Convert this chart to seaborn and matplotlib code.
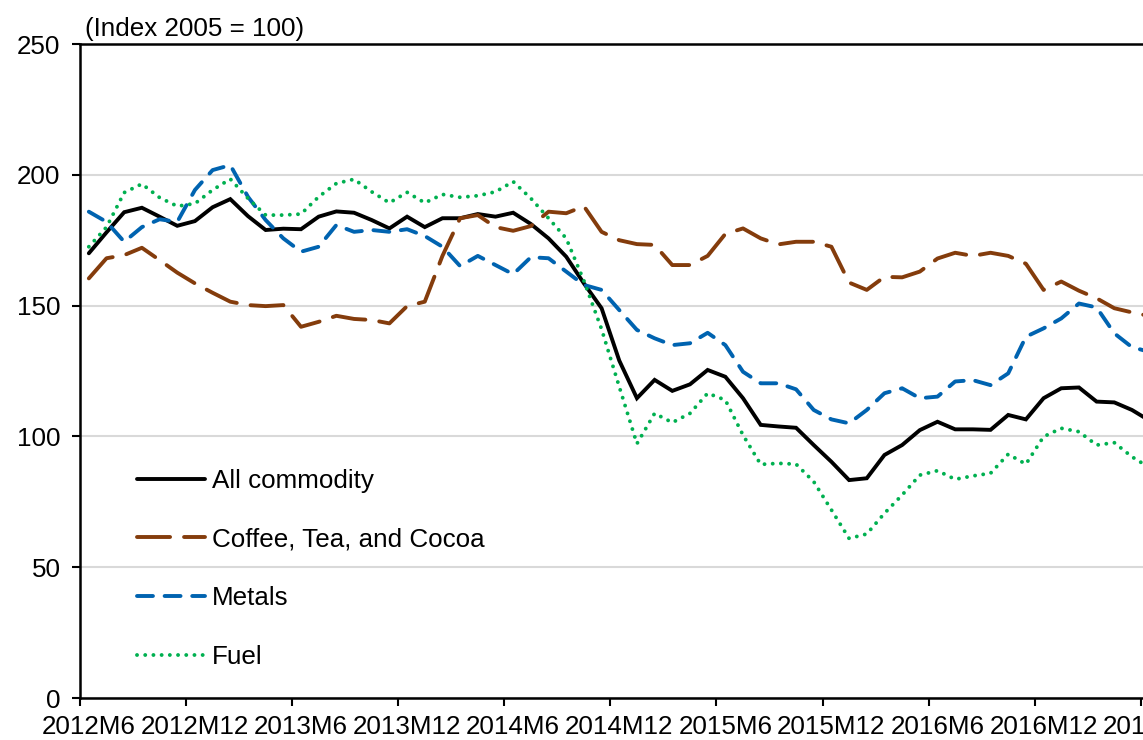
# commodity price indices, monthly, redrawn with seaborn
import numpy as np
import pandas as pd
import seaborn as sns
import matplotlib.pyplot as plt

# monthly values 2012M6 .. 2017M6 (Index 2005 = 100)
all_commodity = [170, 178, 185.7, 187.4, 184, 180.5, 182.3, 187.6, 190.7, 184.2,
                 178.9, 179.4, 179.2, 184, 186, 185.5, 182.7, 179.5, 184, 180,
                 183.4, 183.4, 185, 184, 185.5, 181.2, 175.7, 168.7, 158.5, 149,
                 129, 114.6, 121.6, 117.4, 119.9, 125.4, 122.8, 114.6, 104.4, 103.8,
                 103.3, 96.7, 90.3, 83.3, 84, 92.9, 96.7, 102.4, 105.6, 102.7,
                 102.7, 102.5, 108.2, 106.5, 114.6, 118.4, 118.7, 113.3, 113, 110.1,
                 106]
coffee_tea_cocoa = [160.4, 168.1, 169.3, 172.1, 167.4, 162.6, 158.5, 154.9, 151.5, 150.2,
                    149.8, 150.2, 141.9, 143.8, 146.1, 144.9, 144.5, 143.2, 149.8, 151.5,
                    169, 183.4, 184.6, 180, 178.6, 180.4, 185.9, 185.3, 188, 178.2,
                    175, 173.5, 173.2, 165.5, 165.5, 169, 177.4, 179.5, 175.7, 173.4,
                    174.4, 174.4, 172.5, 158.8, 156, 161, 160.8, 163, 168, 170.2,
                    169, 170.2, 169, 166, 156, 159.2, 155.7, 152.8, 149, 147.4,
                    146]
metals = [185.9, 182, 174.4, 180, 183, 182, 194.2, 201.8, 203.7, 191.6,
          182.7, 175.7, 170.6, 172.5, 180.8, 178.2, 178.9, 178.2, 179.2, 176.6,
          172.5, 165.1, 169, 165.5, 162, 168.5, 168.1, 163, 157.9, 156,
          148.3, 140.7, 137.5, 134.9, 135.6, 139.6, 134.9, 124.7, 120.3, 120.3,
          118, 110.1, 106.5, 105, 110.1, 116.5, 118.4, 114.6, 115.2, 121,
          121.5, 119.6, 124.1, 138.1, 141.3, 145.1, 150.8, 149.3, 139.4, 134.1,
          132.3]
fuel = [172.5, 180, 193.2, 196.5, 191.3, 188, 189, 194.2, 198.4, 191,
        184.6, 184.6, 185, 191.6, 196.7, 198.3, 193.5, 189.3, 193.3, 189.3,
        192.5, 191.4, 192, 193.5, 197.4, 191, 183.4, 175.7, 159.5, 141,
        119, 97.2, 108.8, 105.3, 108.8, 116.5, 113.9, 100.5, 89.3, 89.7,
        89.4, 82.7, 71.9, 61, 62.7, 70.6, 77.6, 85.2, 86.9, 83.6,
        84.9, 85.9, 93.2, 89.4, 99.9, 103.1, 101.8, 96.7, 97.6, 92.2,
        88]

tick_labels = ['2012M6', '2012M12', '2013M6', '2013M12', '2014M6', '2014M12',
               '2015M6', '2015M12', '2016M6', '2016M12', '2017M6']

names = ['All commodity', 'Coffee, Tea, and Cocoa', 'Metals', 'Fuel']
colors = ['#000000', '#843C0C', '#0063B0', '#00B050']
dash_styles = ['', (8.5, 3.6), (4.1, 3.0), (0.01, 2.1)]

wide = pd.DataFrame({'All commodity': all_commodity,
                     'Coffee, Tea, and Cocoa': coffee_tea_cocoa,
                     'Metals': metals,
                     'Fuel': fuel})
wide['month'] = np.arange(len(wide))
df = wide.melt(id_vars='month', var_name='series', value_name='value')

sns.set_style('white')
plt.rcParams['font.family'] = ['Liberation Sans', 'DejaVu Sans']
plt.rcParams['font.size'] = 18.7
plt.rcParams['text.color'] = 'black'

fig = plt.figure(figsize=(11.43, 7.40), dpi=100)
# axes runs off the right edge like the cropped original
ax = fig.add_axes([80 / 1143, 42 / 740, 1078.5 / 1143, 654 / 740])

sns.lineplot(data=df, x='month', y='value', hue='series', style='series',
             hue_order=names, style_order=names,
             palette=dict(zip(names, colors)), dashes=dict(zip(names, dash_styles)),
             linewidth=2.8, ax=ax, legend=False)

for line in ax.lines:
    line.set_dash_capstyle('round')
    line.set_solid_joinstyle('miter')

ax.set_ylim(0, 250)
ax.set_yticks(range(0, 251, 50))
ax.set_xlim(-0.5, 60.5)
ax.set_xticks(range(0, 61, 6))
ax.set_xticklabels(tick_labels)
ax.set_xticks(np.arange(-0.5, 60, 6), minor=True)
ax.set_xlabel('')
ax.set_ylabel('')

ax.yaxis.grid(True, color='#D9D9D9', linewidth=1.5)
ax.set_axisbelow(True)
for side in ['left', 'bottom', 'top']:
    ax.spines[side].set_color('black')
    ax.spines[side].set_linewidth(1.8)
ax.spines['right'].set_visible(False)

ax.tick_params(axis='x', which='major', length=0, pad=12.5, labelsize=18.7, colors='black')
ax.tick_params(axis='x', which='minor', bottom=True, length=6, width=1.5, color='black', direction='out')
ax.tick_params(axis='y', left=True, length=6, width=1.5, pad=8, labelsize=18.7,
               color='black', labelcolor='black', direction='out')

fig.text(85 / 1143, 1 - 36 / 740, '(Index 2005 = 100)', ha='left', va='baseline', fontsize=18.7)

ax.legend(handles=ax.lines[:4], labels=names, loc='upper left',
          bbox_to_anchor=(137 / 1143, 1 - 469 / 740), bbox_transform=fig.transFigure,
          frameon=False, borderpad=0, borderaxespad=0, handlelength=2.6,
          handletextpad=0.3, labelspacing=1.33, fontsize=18.7)

fig.savefig('out.png', dpi=100)
